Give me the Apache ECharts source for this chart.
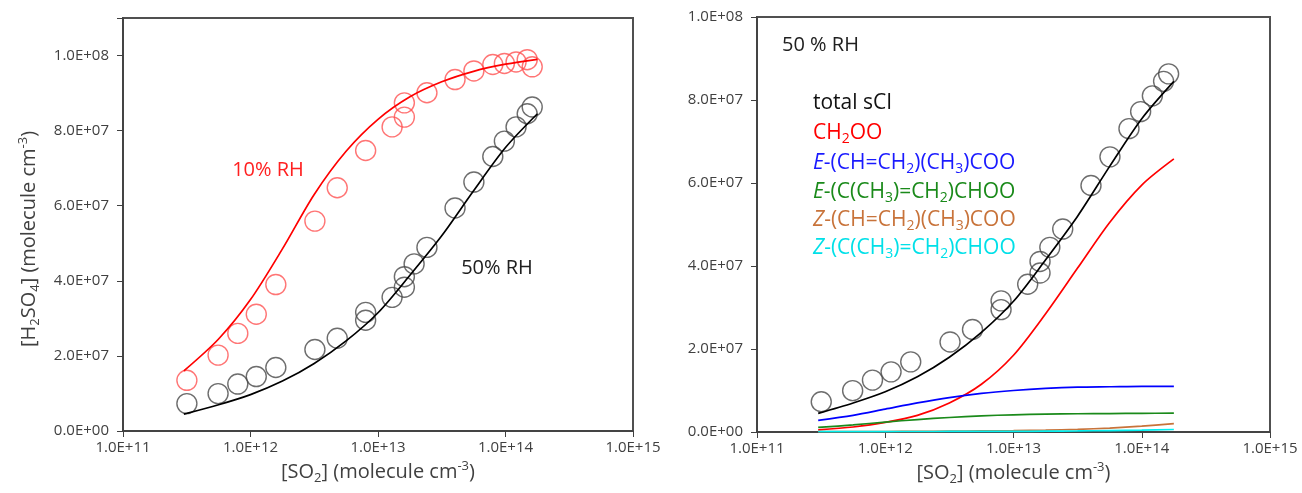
<!DOCTYPE html>
<html>
<head>
<meta charset="utf-8">
<script src="https://cdn.jsdelivr.net/npm/echarts@6/dist/echarts.min.js"></script>
<style>
  html, body { margin: 0; padding: 0; background: #fff; }
  #chart { width: 1302px; height: 493px; }
</style>
</head>
<body>
<div id="chart"></div>
<script>
// measured points (both panels share the 50% RH data)
var red10X = [3.17e11, 5.57e11, 7.95e11, 1.11e12, 1.58e12, 3.2e12, 4.79e12, 8.0e12, 1.29e13, 1.61e13, 1.61e13, 2.42e13, 4.02e13, 5.65e13, 7.95e13, 9.8e13, 1.21e14, 1.48e14, 1.62e14];
var red10Y = [1.35e7, 2.02e7, 2.6e7, 3.11e7, 3.9e7, 5.59e7, 6.48e7, 7.47e7, 8.1e7, 8.74e7, 8.36e7, 9.01e7, 9.36e7, 9.59e7, 9.76e7, 9.79e7, 9.83e7, 9.89e7, 9.7e7];
var blk50X = [3.17e11, 5.57e11, 7.95e11, 1.11e12, 1.58e12, 3.2e12, 4.79e12, 8.0e12, 8.0e12, 1.29e13, 1.61e13, 1.61e13, 1.92e13, 2.42e13, 4.02e13, 5.65e13, 7.95e13, 9.8e13, 1.21e14, 1.48e14, 1.62e14];
var blk50Y = [7.3e6, 9.96e6, 1.25e7, 1.45e7, 1.69e7, 2.17e7, 2.47e7, 3.16e7, 2.95e7, 3.56e7, 4.11e7, 3.83e7, 4.45e7, 4.89e7, 5.94e7, 6.63e7, 7.31e7, 7.72e7, 8.1e7, 8.45e7, 8.63e7];

// model curves
var modelX = [3.0e11, 5.62e11, 1e12, 1.78e12, 3.16e12, 5.62e12, 1e13, 1.78e13, 3.16e13, 5.62e13, 1e14, 1.78e14];
var model10 = [1.6e7, 2.45e7, 3.5e7, 4.85e7, 6.3e7, 7.45e7, 8.3e7, 8.9e7, 9.3e7, 9.58e7, 9.77e7, 9.9e7];
var totalSCI = [4.5e6, 7.0e6, 9.7e6, 1.33e7, 1.8e7, 2.4e7, 3.15e7, 4.15e7, 5.2e7, 6.4e7, 7.55e7, 8.45e7];
var ch2oo = [5e5, 1.2e6, 2.3e6, 4.0e6, 7.0e6, 1.15e7, 1.85e7, 2.85e7, 3.95e7, 5.05e7, 5.95e7, 6.58e7];
var eVinyl = [2.8e6, 4.0e6, 5.5e6, 7.0e6, 8.3e6, 9.3e6, 1.0e7, 1.05e7, 1.08e7, 1.09e7, 1.1e7, 1.1e7];
var eIsoprop = [1.1e6, 1.7e6, 2.4e6, 3.0e6, 3.5e6, 3.9e6, 4.15e6, 4.3e6, 4.4e6, 4.45e6, 4.5e6, 4.55e6];
var zVinyl = [1e5, 1e5, 1.2e5, 1.5e5, 2e5, 2.5e5, 3.2e5, 4.5e5, 6.5e5, 9.5e5, 1.4e6, 2.0e6];
var zIsoprop = [1e5, 1e5, 1.1e5, 1.2e5, 1.3e5, 1.4e5, 1.5e5, 2e5, 2.5e5, 3.5e5, 4.5e5, 6e5];

var xTicks = ['1.0E+11', '1.0E+12', '1.0E+13', '1.0E+14', '1.0E+15'];

var FONT = '"Open Sans", "Noto Sans", sans-serif';
var TXT = '#404040';
var AX = '#404040';

function zip(xs, ys) {
    return xs.map(function (x, i) { return [x, ys[i]]; });
}
function sci(v) {
    if (v === 0) return '0.0E+00';
    var e = Math.floor(Math.log10(v) + 1e-9);
    var m = v / Math.pow(10, e);
    return m.toFixed(1) + 'E+' + (e < 10 ? '0' + e : e);
}
function xLabel(v) {
    var e = Math.round(Math.log10(v));
    return xTicks[e - 11] || '';
}

// rich text styles for sub/superscripts
function richFor(size, color) {
    var sub = Math.round(size * 0.66);
    var r = {
        s: { fontSize: sub, lineHeight: sub, padding: [Math.round(size * 0.62), 0, 0, 0], fontFamily: FONT },
        p: { fontSize: sub, lineHeight: sub, padding: [0, 0, Math.round(size * 0.6), 0], fontFamily: FONT },
        i: { fontStyle: 'italic', fontSize: size, fontFamily: FONT }
    };
    if (color) {
        Object.keys(r).forEach(function (k) { r[k].fill = color; r[k].color = color; });
    }
    return r;
}

function xAxisOf(grid) {
    return {
        type: 'log', logBase: 10, gridIndex: grid,
        min: 1e11, max: 1e15,
        name: '[SO{s|2}] (molecule cm{p|-3})',
        nameLocation: 'middle', nameGap: 31,
        nameTextStyle: { fontSize: 20, color: TXT, fontFamily: FONT, rich: richFor(20) },
        axisLine: { lineStyle: { color: AX, width: 1.5 } },
        axisTick: { inside: false, length: 6, lineStyle: { color: AX } },
        minorTick: { show: false },
        splitLine: { show: false },
        axisLabel: { formatter: xLabel, fontSize: 15, color: TXT, fontFamily: FONT, margin: 9 }
    };
}

function yAxisOf(grid, max) {
    return {
        type: 'value', gridIndex: grid,
        min: 0, max: max, interval: 2e7,
        axisLine: { show: true, lineStyle: { color: AX, width: 1.5 } },
        axisTick: { show: true, inside: false, length: 6, lineStyle: { color: AX } },
        splitLine: { show: false },
        axisLabel: {
            formatter: function (v) { return v > 1.0001e8 ? '' : sci(v); },
            fontSize: 15, color: TXT, fontFamily: FONT, margin: 14
        }
    };
}

function circles(xi, data, color) {
    return {
        type: 'scatter', xAxisIndex: xi, yAxisIndex: xi,
        data: data, symbol: 'circle', symbolSize: 20,
        itemStyle: { color: 'rgba(0,0,0,0)', borderColor: color, borderWidth: 1.4 },
        z: 2
    };
}
function curve(xi, ys, color) {
    return {
        type: 'line', xAxisIndex: xi, yAxisIndex: xi,
        data: zip(modelX, ys), smooth: 0.3, showSymbol: false,
        lineStyle: { color: color, width: 1.7 },
        z: 3
    };
}

function legendText(y, text, color) {
    return {
        type: 'text', x: 813, y: y,
        style: { text: text, rich: richFor(21, color), fill: color, font: '21px ' + FONT, verticalAlign: 'middle' }
    };
}

var chart = echarts.init(document.getElementById('chart'));
chart.setOption({
    animation: false,
    grid: [
        { left: 123, right: 669, top: 18, bottom: 62, show: true, borderColor: '#505050', borderWidth: 2 },
        { left: 757, right: 32, top: 17, bottom: 61, show: true, borderColor: '#505050', borderWidth: 2 }
    ],
    xAxis: [xAxisOf(0), xAxisOf(1)],
    yAxis: [yAxisOf(0, 1.1e8), yAxisOf(1, 1e8)],
    series: [
        circles(0, zip(red10X, red10Y), '#ff5252'),
        circles(0, zip(blk50X, blk50Y), '#484848'),
        curve(0, model10, '#ff0000'),
        curve(0, totalSCI, '#000000'),
        circles(1, zip(blk50X, blk50Y), '#484848'),
        curve(1, totalSCI, '#000000'),
        curve(1, ch2oo, '#ff0000'),
        curve(1, eVinyl, '#0000ff'),
        curve(1, eIsoprop, '#1a8a1a'),
        curve(1, zVinyl, '#c8733a'),
        curve(1, zIsoprop, '#00f0f0')
    ],
    graphic: [
        {
            type: 'text', x: 29, y: 239, rotation: Math.PI / 2,
            style: {
                text: '[H{s|2}SO{s|4}] (molecule cm{p|-3})', rich: richFor(20, TXT),
                fill: TXT, font: '20px ' + FONT, align: 'center', verticalAlign: 'middle'
            }
        },
        { type: 'text', x: 268, y: 170, style: { text: '10% RH', fill: '#ff2020', font: '20px ' + FONT, align: 'center', verticalAlign: 'middle' } },
        { type: 'text', x: 497, y: 268, style: { text: '50% RH', fill: '#202020', font: '20px ' + FONT, align: 'center', verticalAlign: 'middle' } },
        { type: 'text', x: 782, y: 45, style: { text: '50 % RH', fill: '#202020', font: '20px ' + FONT, verticalAlign: 'middle' } },
        legendText(103, 'total sCI', '#111111'),
        legendText(133, 'CH{s|2}OO', '#ff0000'),
        legendText(163, '{i|E}-(CH=CH{s|2})(CH{s|3})COO', '#1a1aff'),
        legendText(192, '{i|E}-(C(CH{s|3})=CH{s|2})CHOO', '#1a8a1a'),
        legendText(220, '{i|Z}-(CH=CH{s|2})(CH{s|3})COO', '#c8733a'),
        legendText(248, '{i|Z}-(C(CH{s|3})=CH{s|2})CHOO', '#00e0e8')
    ]
});
</script>
</body>
</html>
